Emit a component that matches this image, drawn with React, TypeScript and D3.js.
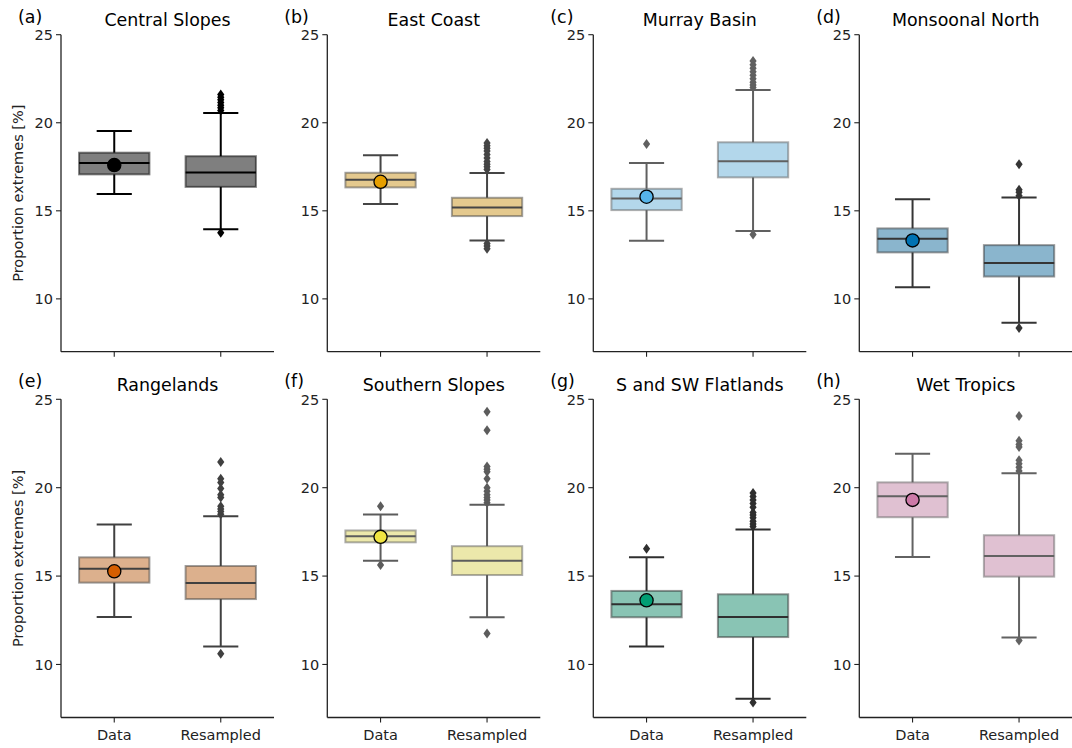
import React from "react";
import * as d3 from "d3";

// Regions, panel tags and colour per region
const regions = [
  "Central Slopes",
  "East Coast",
  "Murray Basin",
  "Monsoonal North",
  "Rangelands",
  "Southern Slopes",
  "S and SW Flatlands",
  "Wet Tropics",
];
const panelTags = ["(a)", "(b)", "(c)", "(d)", "(e)", "(f)", "(g)", "(h)"];
const palette = ["#000000", "#E69F00", "#56B4E9", "#0072B2", "#D55E00", "#F0E442", "#009E73", "#CC79A7"];
const groups = ["Data", "Resampled"];
const yTicks = [10, 15, 20, 25];

// Box summaries: [lower whisker, Q1, median, Q3, upper whisker]
const dataBoxes = [
  [15.95, 17.07, 17.71, 18.3, 19.53],
  [15.38, 16.33, 16.76, 17.16, 18.16],
  [13.3, 15.04, 15.7, 16.25, 17.71],
  [10.66, 12.64, 13.41, 14.0, 15.66],
  [12.68, 14.63, 15.42, 16.06, 17.92],
  [15.86, 16.91, 17.25, 17.58, 18.48],
  [11.02, 12.67, 13.4, 14.16, 16.07],
  [16.08, 18.33, 19.52, 20.3, 21.92],
];
const resampledBoxes = [
  [13.96, 16.36, 17.18, 18.1, 20.55],
  [13.32, 14.7, 15.19, 15.74, 17.14],
  [13.86, 16.9, 17.81, 18.89, 21.86],
  [8.64, 11.27, 12.03, 13.05, 15.76],
  [11.02, 13.7, 14.61, 15.57, 18.39],
  [12.67, 15.06, 15.86, 16.69, 19.03],
  [8.06, 11.55, 12.68, 13.97, 17.63],
  [11.52, 14.97, 16.14, 17.31, 20.81],
];

// Observed proportion for each region
const observedValues = [17.6, 16.65, 15.8, 13.32, 15.27, 17.22, 13.63, 19.31];

// Points beyond the whiskers
const dataOutliers = [[], [], [18.8], [], [], [18.95, 15.62], [16.55], []];
const resampledOutliers = [
  [20.7, 20.85, 21.0, 21.15, 21.3, 21.45, 21.6, 13.75],
  [17.35, 17.5, 17.65, 17.8, 18.0, 18.2, 18.4, 18.55, 18.7, 18.85, 13.15, 13.0, 12.85],
  [22.0, 22.15, 22.3, 22.5, 22.7, 22.9, 23.1, 23.3, 23.5, 13.65],
  [15.85, 16.05, 16.2, 17.65, 8.35],
  [18.5, 18.65, 18.8, 18.95, 19.45, 19.6, 19.95, 20.3, 20.5, 21.45, 10.6],
  [19.15, 19.3, 19.45, 19.6, 19.8, 20.0, 20.5, 20.9, 21.05, 21.2, 23.25, 24.3, 11.75],
  [17.8, 17.95, 18.1, 18.3, 18.45, 18.6, 18.9, 19.1, 19.3, 19.5, 19.7, 7.85],
  [20.95, 21.15, 21.35, 21.55, 22.3, 22.45, 22.65, 24.05, 11.35],
];

const W = 1072;
const H = 748;
const FONT = "DejaVu Sans, Verdana, sans-serif";
const panelLefts = [61, 327.3, 593.3, 859.3];
const panelWidth = 213;
const rowRanges: [number, number][] = [
  [351.7, 34.7],
  [717.5, 399.3],
];
const AXIS = "#222";

// desaturated fill like seaborn's saturation=0.75
function boxFill(c: string) {
  const h = d3.hsl(c);
  if (!isNaN(h.s)) h.s = h.s * 0.75;
  return h.formatHex();
}
function lineGray(c: string) {
  const h = d3.hsl(c);
  const l = isNaN(h.l) ? 0 : h.l;
  const v = Math.round(l * 0.6 * 255);
  return d3.rgb(v, v, v).formatHex();
}

function Panel({ i }: { i: number }) {
  const row = Math.floor(i / 4);
  const col = i % 4;
  const left = panelLefts[col];
  const right = left + panelWidth;
  const [bottom, top] = rowRanges[row];
  const y = d3.scaleLinear().domain([7, 25]).range([bottom, top]);
  const x = d3.scaleLinear().domain([-0.5, 1.5]).range([left, right]);
  const unit = x(1) - x(0);
  const boxW = unit * 0.66;
  const capW = boxW / 2;
  const color = palette[i];
  const fill = boxFill(color);
  const gray = lineGray(color);
  const boxes = [dataBoxes[i], resampledBoxes[i]];
  const outs = [dataOutliers[i], resampledOutliers[i]];
  const diamond = (cx: number, cy: number) =>
    `M${cx},${cy - 5} L${cx + 3.6},${cy} L${cx},${cy + 5} L${cx - 3.6},${cy} Z`;

  return (
    <g>
      {boxes.map((b, k) => {
        const cx = x(k);
        const [lo, q1, med, q3, hi] = b;
        return (
          <g key={k}>
            <line x1={cx} x2={cx} y1={y(hi)} y2={y(q3)} stroke={gray} strokeWidth={2} />
            <line x1={cx} x2={cx} y1={y(q1)} y2={y(lo)} stroke={gray} strokeWidth={2} />
            <line x1={cx - capW / 2} x2={cx + capW / 2} y1={y(hi)} y2={y(hi)} stroke={gray} strokeWidth={2} />
            <line x1={cx - capW / 2} x2={cx + capW / 2} y1={y(lo)} y2={y(lo)} stroke={gray} strokeWidth={2} />
            <rect
              x={cx - boxW / 2}
              y={y(q3)}
              width={boxW}
              height={y(q1) - y(q3)}
              fill={fill}
              fillOpacity={0.5}
              stroke={gray}
              strokeOpacity={0.5}
              strokeWidth={2}
            />
            <line x1={cx - boxW / 2} x2={cx + boxW / 2} y1={y(med)} y2={y(med)} stroke={gray} strokeWidth={2} />
            {outs[k].map((v, j) => (
              <path key={j} d={diamond(cx, y(v))} fill={gray} />
            ))}
          </g>
        );
      })}
      <circle cx={x(0)} cy={y(observedValues[i])} r={6.6} fill={color} stroke="#000" strokeWidth={1.3} />

      {/* axes */}
      <line x1={left} x2={left} y1={top} y2={bottom} stroke={AXIS} strokeWidth={1.3} />
      <line x1={left} x2={right} y1={bottom} y2={bottom} stroke={AXIS} strokeWidth={1.3} />
      {yTicks.map((t) => (
        <g key={t}>
          <line x1={left - 5} x2={left} y1={y(t)} y2={y(t)} stroke={AXIS} strokeWidth={1.1} />
          <text x={left - 8} y={y(t)} dy="0.36em" textAnchor="end" fontSize={14.5} fill={AXIS} fontFamily={FONT}>
            {t}
          </text>
        </g>
      ))}
      {groups.map((g, k) => (
        <g key={g}>
          <line x1={x(k)} x2={x(k)} y1={bottom} y2={bottom + 5} stroke={AXIS} strokeWidth={1.1} />
          {row === 1 && (
            <text x={x(k)} y={bottom + 22} textAnchor="middle" fontSize={14.5} fill={AXIS} fontFamily={FONT}>
              {g}
            </text>
          )}
        </g>
      ))}
      <text x={(left + right) / 2} y={top - 8.7} textAnchor="middle" fontSize={17.4} fill="#000" fontFamily={FONT}>
        {regions[i]}
      </text>
      <text x={left - 43} y={top - 12} fontSize={17.4} fill="#000" fontFamily={FONT}>
        {panelTags[i]}
      </text>
      {col === 0 && (
        <text
          transform={`translate(22.5,${(top + bottom) / 2}) rotate(-90)`}
          textAnchor="middle"
          fontSize={14.5}
          fill={AXIS}
          fontFamily={FONT}
        >
          Proportion extremes [%]
        </text>
      )}
    </g>
  );
}

export default function App() {
  return (
    <svg
      width={W}
      height={H}
      viewBox={`0 0 ${W} ${H}`}
      style={{ position: "absolute", left: 0, top: 0, background: "#fff" }}
    >
      <rect width={W} height={H} fill="#fff" />
      {regions.map((_, i) => (
        <Panel key={i} i={i} />
      ))}
    </svg>
  );
}
